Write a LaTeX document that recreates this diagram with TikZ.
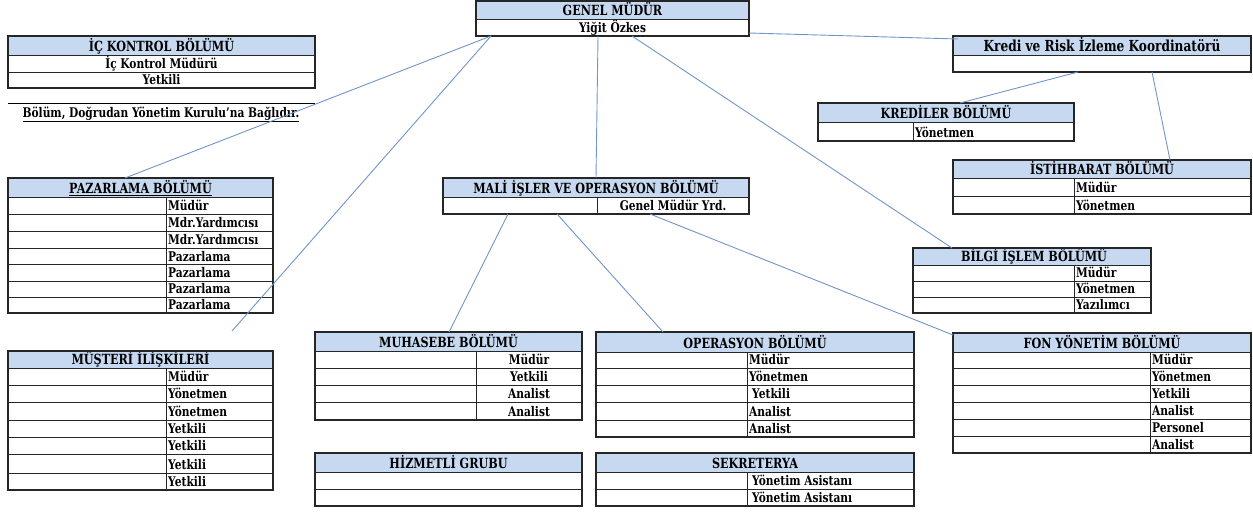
\documentclass[tikz,border=0pt]{standalone}
\usepackage{fontspec}
\setmainfont{DejaVu Serif}[FakeStretch=0.8]
\usetikzlibrary{fit,calc}
\definecolor{hdr}{HTML}{C6D9F0}
\definecolor{lnk}{HTML}{7095C8}
\definecolor{bord}{HTML}{262626}
\tikzset{
 rule/.style={draw=bord, line width=0.8pt},
 frame/.style={draw=bord, line width=1.1pt},
 hfill/.style={fill=hdr},
 link/.style={draw=lnk, line width=0.9pt},
 title/.style={font=\fontsize{14}{15}\selectfont\bfseries, inner sep=0pt, anchor=base},
 cell/.style={font=\fontsize{13.3}{14}\selectfont\bfseries, inner sep=0pt},
 boxfit/.style={inner sep=0pt, outer sep=0pt, draw=none}
}
\newcounter{cc}
\newcommand\orgbox[6]{%
  \fill[hfill] (#2,#3) rectangle (#4,#6);
  \draw[rule] (#2,#6) -- (#4,#6);
  \node[boxfit, fit={(#2,#3)(#4,#5)}] (#1) {};
}
\newcommand\frameit[1]{\draw[frame] (#1.north west) rectangle (#1.south east);}
\newcommand\hrows[3]{\foreach \yy in {#3} {\draw[rule] (#1,\yy) -- (#2,\yy);}}
% #1 x, #2 bottom of row, #3 text
\newcommand\lc[3]{\stepcounter{cc}\node[cell, anchor=base west] (c\arabic{cc}) at (#1,#2-3.5) {#3};}
\newcommand\mc[3]{\stepcounter{cc}\node[cell, anchor=base] (c\arabic{cc}) at (#1,#2-3.5) {#3};}
\newcommand\tc[4]{\node[title] (#1) at (#2,#3-3.5) {#4};}
\begin{document}
\begin{tikzpicture}[x=1pt,y=-1pt]
\useasboundingbox (0,0) rectangle (1253,514);

% GENEL MUDUR
\orgbox{gm}{476}{1}{749}{36}{19}
\tc{gmt}{612.5}{19}{GENEL MÜDÜR}
\mc{612.5}{36}{Yiğit Özkes}
\frameit{gm}

% IC KONTROL
\orgbox{ick}{8}{36}{315}{88}{55}
\hrows{8}{315}{72}
\tc{ickt}{161.5}{55}{İÇ KONTROL BÖLÜMÜ}
\mc{161.5}{72}{İç Kontrol Müdürü}
\mc{161.5}{88}{Yetkili}
\frameit{ick}
\coordinate (nl1) at (8,103);
\coordinate (nl2) at (315,103);
\draw[draw=black, line width=0.9pt] (nl1) -- (nl2);
\node[cell, anchor=base] (note) at (161,117) {\underline{Bölüm, Doğrudan Yönetim Kurulu'na Bağlıdır.}};

% KREDI VE RISK
\orgbox{kr}{953}{36}{1251}{72}{55}
\node[title, font=\fontsize{15.2}{16}\selectfont\bfseries] (krt) at (1102,51.5) {Kredi ve Risk İzleme Koordinatörü};
\frameit{kr}

% KREDILER
\orgbox{kre}{818}{103}{1074}{141}{122}
\draw[rule] (913,122) -- (913,141);
\tc{kret}{946}{122}{KREDİLER BÖLÜMÜ}
\lc{915}{141}{Yönetmen}
\frameit{kre}

% ISTIHBARAT
\orgbox{ist}{953}{160}{1251}{214}{178}
\hrows{953}{1251}{196}
\draw[rule] (1074,178) -- (1074,214);
\tc{istt}{1102}{178}{İSTİHBARAT BÖLÜMÜ}
\lc{1076}{196}{Müdür}
\lc{1076}{214}{Yönetmen}
\frameit{ist}

% PAZARLAMA
\orgbox{pz}{8}{178}{273}{313}{197}
\hrows{8}{273}{214,231,248,264.5,281,297}
\draw[rule] (166,197) -- (166,313);
\tc{pzt}{140.5}{197}{\underline{PAZARLAMA BÖLÜMÜ}}
\lc{168}{214}{Müdür}
\lc{168}{231}{Mdr.Yardımcısı}
\lc{168}{248}{Mdr.Yardımcısı}
\lc{168}{264.5}{Pazarlama}
\lc{168}{281}{Pazarlama}
\lc{168}{297}{Pazarlama}
\lc{168}{313}{Pazarlama}
\frameit{pz}

% MUSTERI ILISKILERI
\orgbox{ms}{8}{351}{273}{490}{368}
\hrows{8}{273}{385,402,420,437,454,473}
\draw[rule] (166,368) -- (166,490);
\tc{mst}{140.5}{368}{MÜŞTERİ İLİŞKİLERİ}
\lc{168}{385}{Müdür}
\lc{168}{402}{Yönetmen}
\lc{168}{420}{Yönetmen}
\lc{168}{437}{Yetkili}
\lc{168}{454}{Yetkili}
\lc{168}{473}{Yetkili}
\lc{168}{490}{Yetkili}
\frameit{ms}

% MALI ISLER
\orgbox{mali}{443}{178}{749}{214}{197}
\draw[rule] (597,197) -- (597,214);
\tc{malit}{596}{197}{MALİ İŞLER VE OPERASYON BÖLÜMÜ}
\mc{673}{214}{Genel Müdür Yrd.}
\frameit{mali}

% MUHASEBE
\orgbox{muh}{315}{332}{582}{420}{351}
\hrows{315}{582}{368,385,402}
\draw[rule] (476,351) -- (476,420);
\tc{muht}{448.5}{351}{MUHASEBE BÖLÜMÜ}
\mc{529}{368}{Müdür}
\mc{529}{385}{Yetkili}
\mc{529}{402}{Analist}
\mc{529}{420}{Analist}
\frameit{muh}

% HIZMETLI
\orgbox{hiz}{315}{453}{582}{506}{472}
\hrows{315}{582}{489}
\tc{hizt}{448.5}{472}{HİZMETLİ GRUBU}
\frameit{hiz}

% OPERASYON
\orgbox{ops}{596}{332}{914}{437}{352}
\hrows{596}{914}{368,385,402,420}
\draw[rule] (747,352) -- (747,437);
\tc{opst}{755}{352}{OPERASYON BÖLÜMÜ}
\lc{749}{368}{Müdür}
\lc{749}{385}{Yönetmen}
\lc{752}{402}{Yetkili}
\lc{749}{420}{Analist}
\lc{749}{437}{Analist}
\frameit{ops}

% SEKRETERYA
\orgbox{sek}{596}{453}{914}{506}{472}
\hrows{596}{914}{489}
\draw[rule] (747,472) -- (747,506);
\tc{sekt}{755}{472}{SEKRETERYA}
\lc{752}{489}{Yönetim Asistanı}
\lc{752}{506}{Yönetim Asistanı}
\frameit{sek}

% BILGI ISLEM
\orgbox{bil}{913}{248}{1151}{313}{265}
\hrows{913}{1151}{281,297}
\draw[rule] (1074,265) -- (1074,313);
\tc{bilt}{1034}{265}{BİLGİ İŞLEM BÖLÜMÜ}
\lc{1076}{281}{Müdür}
\lc{1076}{297}{Yönetmen}
\lc{1076}{313}{Yazılımcı}
\frameit{bil}

% FON YONETIM
\orgbox{fon}{953}{333}{1251}{453}{352}
\hrows{953}{1251}{368,385,402,419,436}
\draw[rule] (1150,352) -- (1150,453);
\tc{font}{1102}{352}{FON YÖNETİM BÖLÜMÜ}
\lc{1152}{368}{Müdür}
\lc{1152}{385}{Yönetmen}
\lc{1152}{402}{Yetkili}
\lc{1152}{419}{Analist}
\lc{1152}{436}{Personel}
\lc{1152}{453}{Analist}
\frameit{fon}

% connectors
\coordinate (msend) at (232,331);
\draw[link] ([xshift=15pt]gm.south west) -- ([xshift=117pt]pz.north west);
\draw[link] ([xshift=15pt]gm.south west) -- (msend);
\draw[link] ([xshift=122pt]gm.south west) -- ([xshift=153pt]mali.north west);
\draw[link] ([xshift=156pt]gm.south west) -- ([xshift=39pt]bil.north west);
\draw[link] ([yshift=3pt]gm.south east) -- ([xshift=5pt,yshift=-3pt]kr.north west);
\draw[link] ([xshift=125pt]kr.south west) -- ([xshift=142pt]kre.north west);
\draw[link] ([xshift=199pt]kr.south west) -- ([xshift=217pt]ist.north west);
\draw[link] ([xshift=65pt]mali.south west) -- ([xshift=134pt]muh.north west);
\draw[link] ([xshift=114pt]mali.south west) -- ([xshift=67pt]ops.north west);
\draw[link] ([xshift=207pt]mali.south west) -- ([yshift=-2pt]fon.north west);
\end{tikzpicture}
\end{document}
